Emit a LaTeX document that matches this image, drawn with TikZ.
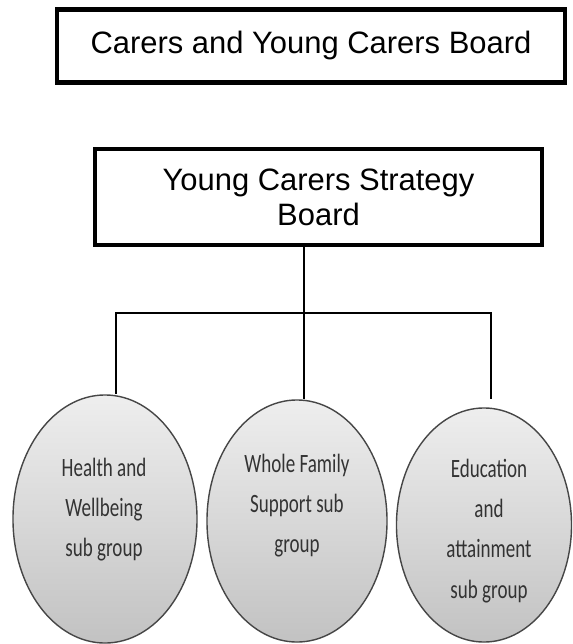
\documentclass[tikz,border=0pt]{standalone}
\usepackage{fontspec}
\setmainfont{Liberation Sans}
\newfontfamily\groupfont[FakeStretch=0.72]{Carlito}
\usepackage{tikz}
\usetikzlibrary{shapes.geometric}
\definecolor{light}{RGB}{238, 238, 238}
\definecolor{shade}{RGB}{194, 194, 194}
\definecolor{rim}{RGB}{70, 70, 70}

\tikzset{
  boardbox/.style={draw, line width=3.4pt, align=center, inner sep=0pt,
    font=\fontsize{22}{25}\selectfont},
  subgroup/.style={ellipse, draw=rim, line width=1pt, top color=light,
    bottom color=shade, inner sep=0pt},
  grouplabel/.style={align=center, inner sep=0pt,
    font=\groupfont\fontsize{18.8}{28.5}\selectfont, text=black!80},
  stem/.style={line width=2.1pt},
  branch/.style={line width=1.2pt}
}

\begin{document}
\begin{tikzpicture}[x=0.025cm, y=-0.025cm]
  \path (0, 0) rectangle (571, 644);

  % boards
  \node[boardbox, minimum width=12.7cm, minimum height=1.825cm] (carers)
    at (311, 46) {Carers and Young Carers Board};
  \node[boardbox, minimum width=11.175cm, minimum height=2.4cm] (strategy)
    at (318.5, 197) {Young Carers Strategy\\Board};

  % sub groups
  \node[subgroup, minimum width=4.6cm, minimum height=6.2cm] (health) at (105, 519) {};
  \node[subgroup, minimum width=4.5cm, minimum height=6.05cm] (family) at (297, 521) {};
  \node[subgroup, minimum width=4.375cm, minimum height=5.85cm] (education) at (484, 525) {};

  \node[grouplabel] (health-text) at (104, 510) {Health and\\Wellbeing\\sub group};
  \node[grouplabel] (family-text) at (297, 506) {Whole Family\\Support sub\\group};
  \node[grouplabel] (education-text) at (489, 531) {Education\\and\\attainment\\sub group};

  % connectors
  \coordinate (hub) at (304, 313);
  \coordinate (hleft) at (116, 313);
  \coordinate (hright) at (491, 313);
  \draw[stem] (strategy.south -| hub) -- (hub |- family.north);
  \draw[branch] (hleft |- health.north) -- (hleft) -- (hright) -- (hright |- family.north);
\end{tikzpicture}
\end{document}
